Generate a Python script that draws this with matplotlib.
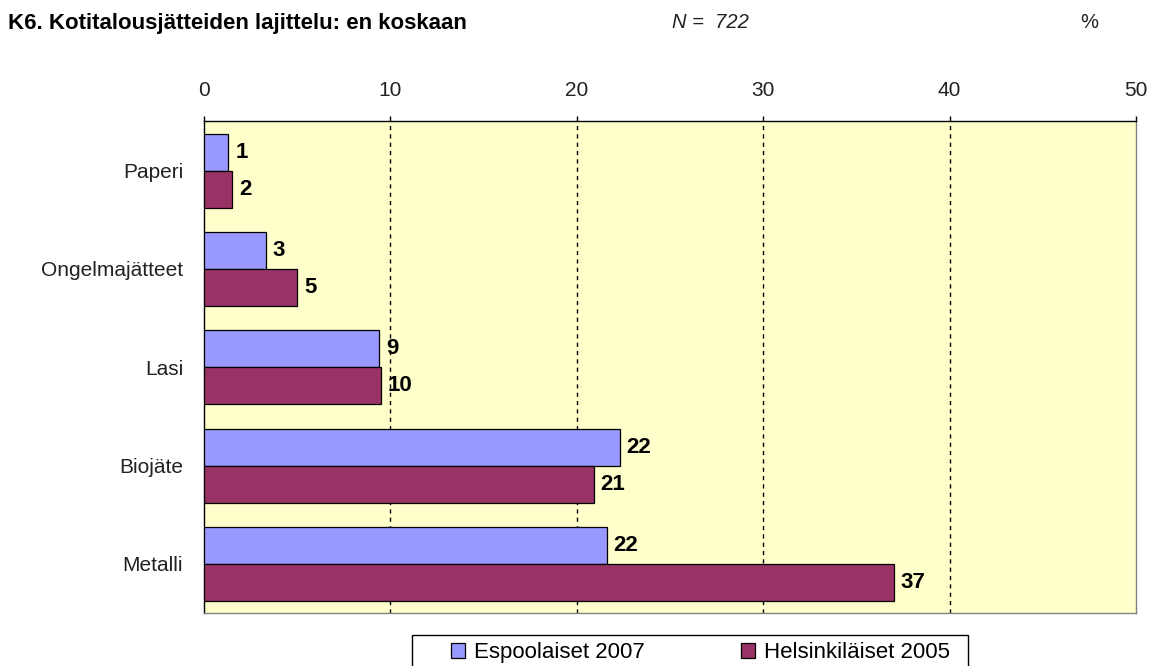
import matplotlib
matplotlib.use("Agg")
import matplotlib.pyplot as plt
from matplotlib.patches import Patch, Rectangle
import numpy as np

plt.rcParams['font.family'] = ['Liberation Sans', 'DejaVu Sans']

categories = ["Paperi", "Ongelmajätteet", "Lasi", "Biojäte", "Metalli"]
series_names = ["Espoolaiset 2007", "Helsinkiläiset 2005"]
espoo = [1.3, 3.3, 9.4, 22.3, 21.6]
helsinki = [1.5, 5.0, 9.5, 20.9, 37.0]
espoo_labels = ["1", "3", "9", "22", "22"]
helsinki_labels = ["2", "5", "10", "21", "37"]
xticks = [0, 10, 20, 30, 40, 50]
title = "K6. Kotitalousjätteiden lajittelu: en koskaan"
n_text = "N =  722"

c_espoo = "#9999FF"
c_hki = "#993366"

W, H = 1152, 666
fig = plt.figure(figsize=(W / 100, H / 100), dpi=100)
left, right, top, bottom = 204, 1136, 121.5, 613
ax = fig.add_axes([left / W, 1 - bottom / H, (right - left) / W, (bottom - top) / H])
ax.set_facecolor("#FFFFCC")

y = np.arange(len(categories))
h = 0.376
ax.barh(y - h / 2, espoo, height=h, color=c_espoo, edgecolor="black", linewidth=0.9, zorder=3)
ax.barh(y + h / 2, helsinki, height=h, color=c_hki, edgecolor="black", linewidth=0.9, zorder=3)

for yi, v, lab in zip(y, espoo, espoo_labels):
    ax.annotate(lab, (v, yi - h / 2), xytext=(5, 0), textcoords="offset points",
                ha="left", va="center", fontsize=16, fontweight="bold", zorder=4)
for yi, v, lab in zip(y, helsinki, helsinki_labels):
    ax.annotate(lab, (v, yi + h / 2), xytext=(5, 0), textcoords="offset points",
                ha="left", va="center", fontsize=16, fontweight="bold", zorder=4)

ax.set_xlim(0, 50)
ax.set_ylim(len(categories) - 0.5, -0.5)
ax.set_xticks(xticks)
ax.set_xticklabels([str(t) for t in xticks])
ax.xaxis.tick_top()
ax.tick_params(axis="x", top=True, bottom=False, length=3.6, width=1, color="black",
               pad=12, labelsize=15, labelcolor="#222222")
ax.set_yticks(y)
ax.set_yticklabels(categories)
ax.tick_params(axis="y", length=0, pad=15, labelsize=15, labelcolor="#222222")

for gx in xticks[1:-1]:
    ax.axvline(gx, color="black", linestyle=(0, (3, 3)), linewidth=1, zorder=1)

ax.spines["top"].set_color("black")
ax.spines["left"].set_color("black")
ax.spines["right"].set_color("#808080")
ax.spines["bottom"].set_color("#808080")
for s in ax.spines.values():
    s.set_linewidth(1)

fig.text(8 / W, 1 - 23 / H, title, fontsize=16, fontweight="bold", ha="left", va="center")
fig.text(672 / W, 1 - 23 / H, n_text, fontsize=14.5, fontstyle="italic", ha="left", va="center", color="#222222")
fig.text(1089 / W, 1 - 23 / H, "%", fontsize=14.5, ha="center", va="center", color="#222222")

# legend frame (extends below the figure edge like the reference)
fig.patches.append(Rectangle((412 / W, 1 - 690 / H), (968 - 412) / W, (690 - 635) / H,
                             transform=fig.transFigure, facecolor="white",
                             edgecolor="black", linewidth=1, zorder=1))
handles = [Patch(facecolor=c_espoo, edgecolor="black", linewidth=0.9),
           Patch(facecolor=c_hki, edgecolor="black", linewidth=0.9)]
leg = fig.legend(handles, series_names, loc="upper left",
                 bbox_to_anchor=(451 / W, 1 - 642 / H), ncol=2, fontsize=16,
                 frameon=False,
                 handlelength=0.65, handleheight=0.65, handletextpad=0.4,
                 columnspacing=4.3, borderpad=0.0, borderaxespad=0)
leg.set_zorder(5)

fig.savefig("out.png", dpi=100)
